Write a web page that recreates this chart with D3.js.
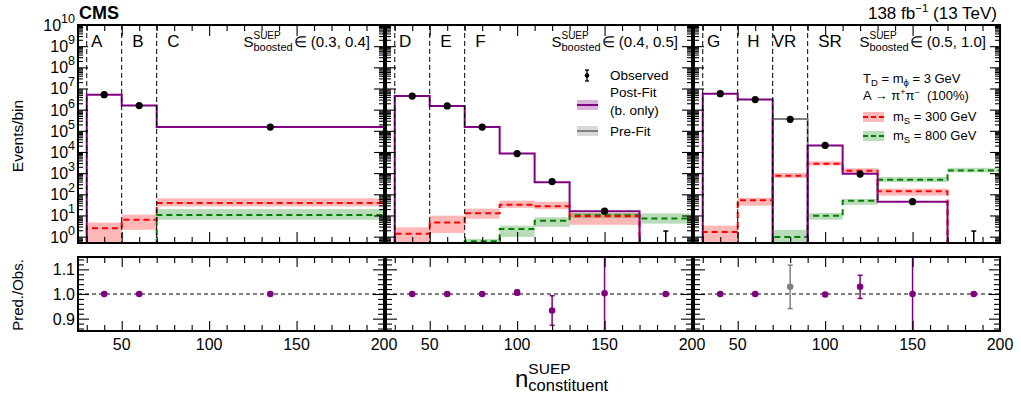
<!DOCTYPE html>
<html><head><meta charset="utf-8">
<script src="https://cdn.jsdelivr.net/npm/d3@7"></script>
<style>
body{margin:0;background:#fff}
svg{display:block}
text{font-family:"Liberation Sans",Arial,Helvetica,sans-serif;fill:#000;white-space:pre}
</style>
</head><body>
<svg id="c" width="1021" height="402"></svg>
<script>
// ---------------- data ----------------
const binEdges = [
  [30,50,70,200],
  [30,50,70,90,110,130,170,200],
  [30,50,70,90,110,130,170,200]
];
const regionNames = [["A","B","C"],["D","E","F"],["G","H","VR","SR"]];
const regionLabelX = [[32.5,56,76],[32.5,56,76],[32.5,55.5,70,96]];
const sBoostedRanges = ["(0.3, 0.4]","(0.4, 0.5]","(0.5, 1.0]"];
const regionDividers = [[30,50,70],[30,50,70],[30,50,70,90]];

const observed = [
  [5.1e6,1.55e6,1.5e5],
  [4.4e6,1.5e6,1.5e5,8.4e3,400,16,0],
  [5.7e6,3.0e6,3.5e5,2.05e4,900,45,0]
];
const postFit = [
  [5.1e6,1.55e6,1.5e5],
  [4.4e6,1.5e6,1.5e5,8.45e3,373,16,0],
  [5.7e6,3.0e6,null,2.05e4,930,45,0]
];
const preFit = [
  [null,null,null],
  [null,null,null,null,null,null,null],
  [null,null,3.6e5,null,null,null,null]
];
const sig300 = [
  [2.5,6.3,39],
  [1.35,4.7,12.6,32.5,27,9.1,0],
  [1.67,52,760,2800,1300,138,0]
];
const sig300Lo = [
  [0.55,2.1,27],
  [0.4,1.5,7,23,20,3.6,0],
  [0.4,29,590,2300,1020,87,0]
];
const sig300Hi = [
  [4.6,11,65],
  [2.75,9.8,21,50,44,13,0],
  [3.3,68,1020,3600,1700,186,0]
];
const sig800 = [
  [0.05,0.05,10.6],
  [0.05,0.05,0.6,2.3,5.7,10.2,7.1],
  [0.05,0.05,0.97,9.8,50,490,1350]
];
const sig800Lo = [
  [0.03,0.03,6.3],
  [0.03,0.03,0.4,0.97,2.9,7.6,4.1],
  [0.03,0.03,0.3,6.3,32,380,1090]
];
const sig800Hi = [
  [0.07,0.07,20],
  [0.07,0.07,0.78,3.3,8.2,13.2,12.6],
  [0.07,0.07,2.1,13,60,660,1780]
];
const ratioVals = [
  [1,1,1],
  [1,1,1,1.006,0.933,1.003,1.0],
  [1,1,1.029,0.998,1.029,1.0,1.0]
];
const ratioErr = [
  [0.001,0.001,0.002],
  [0.001,0.001,0.002,0.01,0.06,0.6,0],
  [0.001,0.001,0.088,0.003,0.047,0.6,0]
];
const ratioIsPreFit = [
  [false,false,false],
  [false,false,false,false,false,false,false],
  [false,false,true,false,false,false,false]
];
const xMajorTicks = [50,100,150,200];
const xMinorTicks = [30,40,60,70,80,90,110,120,130,140,160,170,180,190];
const yDecades = [0,1,2,3,4,5,6,7,8,9,10];
const ratioMajorTicks = [0.9,1.0,1.1];
const ratioMinorTicks = [0.86,0.88,0.92,0.94,0.96,0.98,1.02,1.04,1.06,1.08,1.12,1.14];

// ---------------- layout ----------------
const svg = d3.select("#c");
const panelX = [78,386,694], panelW = 306;
const topY = 25, botY = 243, rTop = 257, rBot = 331;
const PURPLE = "#800080", RED = "#ff0000", GREEN = "#008000", GREY = "#808080";

const yTop = d3.scaleLog().domain([0.5,1e10]).range([botY,topY]);
const yRat = d3.scaleLinear().domain([0.85,1.15]).range([rBot,rTop]);
function yv(v){ return (v==null || v<=0.02) ? botY+20 : yTop(Math.max(v,0.02)); }

function rich(g, x, y, pieces, anchor){
  const grp = g.append("g");
  let cx = 0, prevW = 0;
  pieces.forEach(p=>{
    let px = p.stack ? cx - prevW : cx + (p.gap||0);
    const t = grp.append("text").attr("x",px).attr("y",p.dy||0).attr("font-size",p.fs).text(p.t);
    if(p.bold) t.attr("font-weight","bold");
    if(p.it) t.attr("font-style","italic");
    const w = t.node().getComputedTextLength();
    cx = p.stack ? px + Math.max(w,prevW) : px + w;
    prevW = w;
  });
  const shift = anchor==="end" ? -cx : anchor==="middle" ? -cx/2 : 0;
  grp.attr("transform",`translate(${x+shift},${y})`);
  return grp;
}
function addAxis(g, axis, tx, ty){
  const a = g.append("g").attr("transform",`translate(${tx},${ty})`).call(axis);
  a.select(".domain").remove();
  a.selectAll("line").attr("stroke","#000").attr("stroke-width",1.1);
  a.selectAll("text").remove();
  return a;
}
function stepPath(x, edges, vals){
  const segs = [];
  let cur = null;
  for(let i=0;i<vals.length;i++){
    const v = vals[i];
    if(v==null){ if(cur){ cur.push([x(edges[i]),botY+20]); segs.push(cur); cur=null; } continue; }
    if(!cur){ cur = [[x(edges[i]),botY+20]]; }
    cur.push([x(edges[i]),yv(v)]);
    cur.push([x(edges[i+1]),yv(v)]);
  }
  if(cur){ cur.push([x(edges[vals.length]),botY+20]); segs.push(cur); }
  return segs.map(s=>"M"+s.map(p=>p.join(",")).join("L")).join("");
}

const yMinor = [];
for(let d=-1; d<10; d++) for(let k=2;k<=9;k++){ const v=k*Math.pow(10,d); if(v>=0.5 && v<=1e10) yMinor.push(v); }

for(let p=0;p<3;p++){
  const x0 = panelX[p], x1 = x0+panelW;
  const x = d3.scaleLinear().domain([25,200]).range([x0,x1]);
  const edges = binEdges[p];
  const centers = edges.slice(0,-1).map((e,i)=>(e+edges[i+1])/2);
  const g = svg.append("g");

  svg.append("clipPath").attr("id","clip"+p).append("rect")
    .attr("x",x0).attr("y",topY).attr("width",panelW).attr("height",botY-topY);
  const gc = g.append("g").attr("clip-path",`url(#clip${p})`);

  const bands = [[sig300Lo,sig300Hi,"rgba(255,0,0,0.28)"],[sig800Lo,sig800Hi,"rgba(0,128,0,0.28)"]];
  bands.forEach(([lo,hi,col])=>{
    centers.forEach((c,i)=>{
      if(hi[p][i]<=0) return;
      gc.append("rect").attr("x",x(edges[i])).attr("width",x(edges[i+1])-x(edges[i]))
        .attr("y",yv(hi[p][i])).attr("height",Math.max(0,yv(lo[p][i])-yv(hi[p][i])))
        .attr("fill",col);
    });
  });
  gc.append("path").attr("d",stepPath(x,edges,sig800[p])).attr("fill","none")
    .attr("stroke",GREEN).attr("stroke-width",2).attr("stroke-dasharray","6,4");
  gc.append("path").attr("d",stepPath(x,edges,sig300[p])).attr("fill","none")
    .attr("stroke",RED).attr("stroke-width",2).attr("stroke-dasharray","6,4");
  gc.append("path").attr("d",stepPath(x,edges,preFit[p])).attr("fill","none")
    .attr("stroke",GREY).attr("stroke-width",2);
  gc.append("path").attr("d",stepPath(x,edges,postFit[p])).attr("fill","none")
    .attr("stroke",PURPLE).attr("stroke-width",2);

  regionDividers[p].forEach(v=>{
    g.append("line").attr("x1",x(v)).attr("x2",x(v)).attr("y1",topY).attr("y2",botY)
      .attr("stroke","#000").attr("stroke-width",1).attr("stroke-dasharray","5,3");
  });

  observed[p].forEach((v,i)=>{
    const cx = x(centers[i]);
    if(v>0){
      const e = Math.sqrt(v);
      gc.append("line").attr("x1",cx).attr("x2",cx).attr("y1",yv(v+e)).attr("y2",yv(Math.max(v-e,0.03)))
        .attr("stroke","#000").attr("stroke-width",1.5);
      gc.append("circle").attr("cx",cx).attr("cy",yv(v)).attr("r",3.6).attr("fill","#000");
    } else {
      const up = 1.84;
      gc.append("line").attr("x1",cx).attr("x2",cx).attr("y1",yv(up)).attr("y2",botY)
        .attr("stroke","#000").attr("stroke-width",1.5);
      gc.append("line").attr("x1",cx-2.5).attr("x2",cx+2.5).attr("y1",yv(up)).attr("y2",yv(up))
        .attr("stroke","#000").attr("stroke-width",1.5);
    }
  });

  addAxis(g, d3.axisBottom(x).tickValues(xMajorTicks).tickSize(-11).tickSizeOuter(0), 0, botY);
  addAxis(g, d3.axisBottom(x).tickValues(xMinorTicks).tickSize(-6).tickSizeOuter(0), 0, botY);
  addAxis(g, d3.axisTop(x).tickValues(xMajorTicks).tickSize(-11).tickSizeOuter(0), 0, topY);
  addAxis(g, d3.axisTop(x).tickValues(xMinorTicks).tickSize(-6).tickSizeOuter(0), 0, topY);
  const dec = yDecades.map(d=>Math.pow(10,d));
  addAxis(g, d3.axisLeft(yTop).tickValues(dec).tickSize(-10).tickSizeOuter(0), x0, 0);
  addAxis(g, d3.axisLeft(yTop).tickValues(yMinor).tickSize(-5).tickSizeOuter(0), x0, 0);
  addAxis(g, d3.axisRight(yTop).tickValues(dec).tickSize(-10).tickSizeOuter(0), x1, 0);
  addAxis(g, d3.axisRight(yTop).tickValues(yMinor).tickSize(-5).tickSizeOuter(0), x1, 0);
  g.append("rect").attr("x",x0).attr("y",topY).attr("width",panelW).attr("height",botY-topY)
    .attr("fill","none").attr("stroke","#000").attr("stroke-width",2);

  regionNames[p].forEach((n,i)=>{
    g.append("text").attr("x",x(regionLabelX[p][i])).attr("y",47).attr("font-size",17).text(n);
  });
  rich(g, x1-14, 47, [
    {t:"S",fs:15},
    {t:"SUEP",fs:10,dy:-8},
    {t:"boosted",fs:11,dy:4,stack:true},
    {t:"\u2208 "+sBoostedRanges[p],fs:15,gap:1}
  ],"end");

  // ---- ratio panel ----
  const gr = svg.append("g");
  gr.append("line").attr("x1",x0).attr("x2",x1).attr("y1",yRat(1)).attr("y2",yRat(1))
    .attr("stroke","#000").attr("stroke-width",1).attr("stroke-dasharray","4,3");
  svg.append("clipPath").attr("id","rclip"+p).append("rect")
    .attr("x",x0).attr("y",rTop).attr("width",panelW).attr("height",rBot-rTop);
  const grc = gr.append("g").attr("clip-path",`url(#rclip${p})`);
  ratioVals[p].forEach((v,i)=>{
    const cx = x(centers[i]);
    const col = ratioIsPreFit[p][i] ? GREY : PURPLE;
    const e = ratioErr[p][i];
    if(e>0){
      grc.append("line").attr("x1",cx).attr("x2",cx).attr("y1",yRat(v+e)).attr("y2",yRat(v-e))
        .attr("stroke",col).attr("stroke-width",1.5);
      if(e<0.15){
        [v+e,v-e].forEach(w=>grc.append("line").attr("x1",cx-2.5).attr("x2",cx+2.5)
          .attr("y1",yRat(w)).attr("y2",yRat(w)).attr("stroke",col).attr("stroke-width",1.5));
      }
    }
    grc.append("circle").attr("cx",cx).attr("cy",yRat(v)).attr("r",3.3).attr("fill",col);
  });
  addAxis(gr, d3.axisBottom(x).tickValues(xMajorTicks).tickSize(-10).tickSizeOuter(0), 0, rBot);
  addAxis(gr, d3.axisBottom(x).tickValues(xMinorTicks).tickSize(-6).tickSizeOuter(0), 0, rBot);
  addAxis(gr, d3.axisTop(x).tickValues(xMajorTicks).tickSize(-10).tickSizeOuter(0), 0, rTop);
  addAxis(gr, d3.axisTop(x).tickValues(xMinorTicks).tickSize(-6).tickSizeOuter(0), 0, rTop);
  addAxis(gr, d3.axisLeft(yRat).tickValues(ratioMajorTicks).tickSize(-11).tickSizeOuter(0), x0, 0);
  addAxis(gr, d3.axisLeft(yRat).tickValues(ratioMinorTicks).tickSize(-6).tickSizeOuter(0), x0, 0);
  addAxis(gr, d3.axisRight(yRat).tickValues(ratioMajorTicks).tickSize(-11).tickSizeOuter(0), x1, 0);
  addAxis(gr, d3.axisRight(yRat).tickValues(ratioMinorTicks).tickSize(-6).tickSizeOuter(0), x1, 0);
  gr.append("rect").attr("x",x0).attr("y",rTop).attr("width",panelW).attr("height",rBot-rTop)
    .attr("fill","none").attr("stroke","#000").attr("stroke-width",2);
  xMajorTicks.forEach(v=>{
    gr.append("text").attr("x",x(v)).attr("y",350).attr("text-anchor","middle").attr("font-size",16).text(v);
  });
}

yDecades.forEach(d=>{
  const yy = yTop(Math.pow(10,d));
  rich(svg, 75, yy+6, [{t:"10",fs:16},{t:String(d),fs:12.5,dy:-8}], "end");
});
ratioMajorTicks.forEach(v=>{
  svg.append("text").attr("x",75).attr("y",yRat(v)+6).attr("text-anchor","end").attr("font-size",16).text(v.toFixed(1));
});

svg.append("text").attr("transform","translate(23,136) rotate(-90)").attr("text-anchor","middle")
  .attr("font-size",15.5).text("Events/bin");
svg.append("text").attr("transform","translate(23,295) rotate(-90)").attr("text-anchor","middle")
  .attr("font-size",15).text("Pred./Obs.");
rich(svg, 515, 387, [
  {t:"n",fs:24},
  {t:"SUEP",fs:15.5,dy:-13},
  {t:"constituent",fs:16.5,dy:4,stack:true}
], "start");

svg.append("text").attr("x",79).attr("y",19).attr("font-size",18).attr("font-weight","bold").text("CMS");
rich(svg, 997, 19, [{t:"138 fb",fs:17},{t:"\u22121",fs:11.5,dy:-7},{t:" (13 TeV)",fs:17}], "end");

const lg = svg.append("g");
lg.append("line").attr("x1",587).attr("x2",587).attr("y1",70).attr("y2",81).attr("stroke","#000").attr("stroke-width",1.3);
[70,81].forEach(yy=>lg.append("line").attr("x1",585).attr("x2",589).attr("y1",yy).attr("y2",yy).attr("stroke","#000").attr("stroke-width",1.3));
lg.append("circle").attr("cx",587).attr("cy",75.5).attr("r",2.3).attr("fill","#000");
lg.append("text").attr("x",610).attr("y",80).attr("font-size",13.5).text("Observed");
lg.append("rect").attr("x",577).attr("y",100).attr("width",21).attr("height",10).attr("fill","rgba(128,0,128,0.3)");
lg.append("line").attr("x1",577).attr("x2",598).attr("y1",105).attr("y2",105).attr("stroke",PURPLE).attr("stroke-width",2);
lg.append("text").attr("x",610).attr("y",97).attr("font-size",13.5).text("Post-Fit");
lg.append("text").attr("x",610).attr("y",115).attr("font-size",13.5).text("(b. only)");
lg.append("rect").attr("x",577).attr("y",126).attr("width",21).attr("height",10).attr("fill","rgba(128,128,128,0.3)");
lg.append("line").attr("x1",577).attr("x2",598).attr("y1",131).attr("y2",131).attr("stroke",GREY).attr("stroke-width",2);
lg.append("text").attr("x",610).attr("y",136).attr("font-size",13.5).text("Pre-Fit");

rich(svg, 863, 83, [{t:"T",fs:13},{t:"D",fs:9.5,dy:3},{t:" = m",fs:13},{t:"\u03d5",fs:9.5,dy:3},{t:" = 3 GeV",fs:13}], "start");
rich(svg, 863, 100, [{t:"A \u2192 \u03c0",fs:13},{t:"+",fs:9,dy:-5},{t:"\u03c0",fs:13},{t:"\u2212",fs:9,dy:-5},{t:"  (100%)",fs:13}], "start");
lg.append("rect").attr("x",863).attr("y",112).attr("width",21).attr("height",10).attr("fill","rgba(255,0,0,0.28)");
lg.append("line").attr("x1",863).attr("x2",884).attr("y1",117).attr("y2",117).attr("stroke",RED).attr("stroke-width",2).attr("stroke-dasharray","5,3");
rich(svg, 893, 121, [{t:"m",fs:13},{t:"S",fs:9.5,dy:3},{t:" = 300 GeV",fs:13}], "start");
lg.append("rect").attr("x",863).attr("y",131).attr("width",21).attr("height",10).attr("fill","rgba(0,128,0,0.28)");
lg.append("line").attr("x1",863).attr("x2",884).attr("y1",136).attr("y2",136).attr("stroke",GREEN).attr("stroke-width",2).attr("stroke-dasharray","5,3");
rich(svg, 893, 140, [{t:"m",fs:13},{t:"S",fs:9.5,dy:3},{t:" = 800 GeV",fs:13}], "start");
</script>
</body></html>
